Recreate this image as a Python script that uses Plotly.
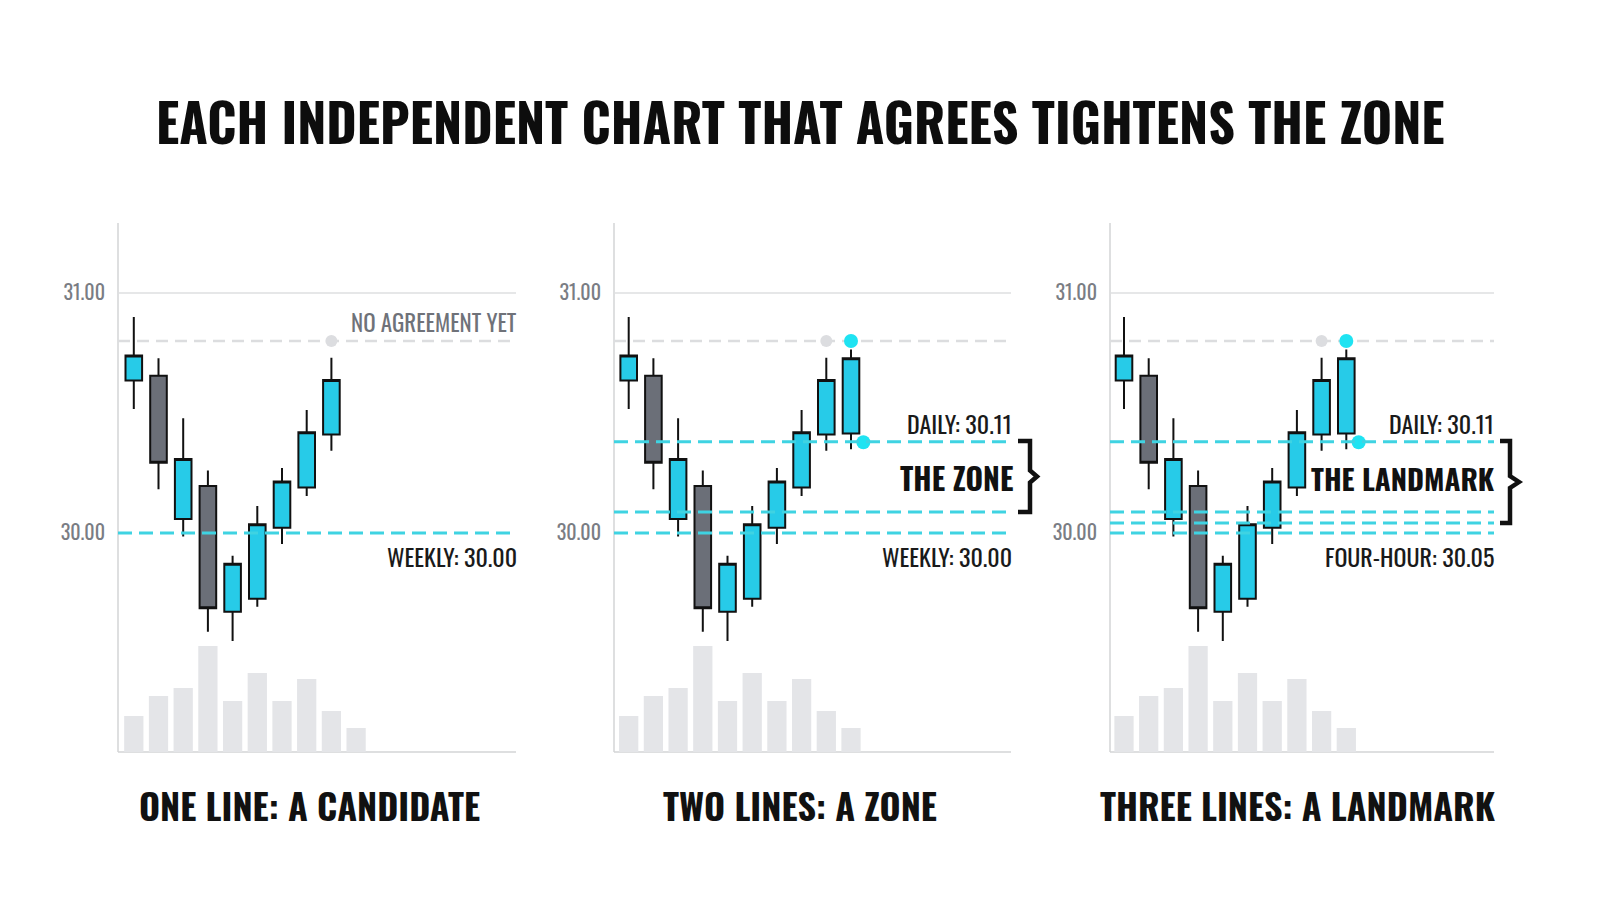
import plotly.graph_objects as go

W, H = 1600, 914

# ---------------- data ----------------
candle_idx = [0, 1, 2, 3, 4, 5, 6, 7, 8, 9]
opens  = [30.635, 30.655, 30.058, 30.196, 29.672, 29.726, 30.022, 30.190, 30.410, 30.415]
highs  = [30.900, 30.728, 30.478, 30.260, 29.905, 30.112, 30.271, 30.512, 30.730, 30.765]
lows   = [30.517, 30.182, 29.985, 29.589, 29.550, 29.693, 29.954, 30.154, 30.343, 30.349]
closes = [30.740, 30.293, 30.308, 29.686, 29.872, 30.036, 30.215, 30.420, 30.638, 30.728]
volume = [36, 56, 64, 106, 51, 79, 51, 73, 41, 24]

candles_per_panel = [9, 10, 10]
captions = ["ONE LINE: A CANDIDATE", "TWO LINES: A ZONE", "THREE LINES: A LANDMARK"]
title_text = "EACH INDEPENDENT CHART THAT AGREES TIGHTENS THE ZONE"

tick_vals = [30.0, 31.0]
tick_text = ["30.00", "31.00"]

prior_high = 30.80            # grey dashed "no agreement" line
# cyan level lines per panel (plotted heights)
levels = [
    [30.00],
    [30.38, 30.088, 30.00],
    [30.38, 30.088, 30.042, 30.00],
]
dot_grey = [(8, 30.80), (8, 30.80), (8, 30.80)]
dot_cyan = [[], [(9, 30.80), (9.5, 30.378)], [(9, 30.80), (9.5, 30.378)]]

# ---------------- styling / layout ----------------
CYAN = "#27cbe8"
CYAN_LINE = "#3fd3e2"
CYAN_DOT = "#1fe3f2"
GREY_C = "#6b6f78"
VOL = "#e4e5e8"
AX = "#d3d4d6"
FONT_N = "Oswald, 'Liberation Sans Narrow', 'DejaVu Sans Condensed', 'Roboto', sans-serif"

OFF = 8  # page body margin offset
panels_px = [(118, 516), (614, 1011), (1110, 1494)]
first_center_px = [133.8, 628.7, 1124.0]
spacing_px = 24.7
top_px, bot_px = 223, 752
y_lo = 30 - (bot_px - 533) / 240
y_hi = 30 + (533 - top_px) / 240


def px(x):
    return (x - OFF) / W


def py(y):
    return 1 - (y - OFF) / H


fig = go.Figure()
layout = dict(
    width=W, height=H, margin=dict(l=0, r=0, t=0, b=0),
    paper_bgcolor="white", plot_bgcolor="rgba(0,0,0,0)",
    showlegend=False, boxgap=0.04,
)
shapes = []
annotations = []

for i in range(3):
    n = i + 1
    xa = "x" if n == 1 else f"x{n}"
    ya = "y" if n == 1 else f"y{n}"
    yv = f"y{n+3}"
    l_px, r_px = panels_px[i]
    x_lo = (l_px - first_center_px[i]) / spacing_px
    x_hi = (r_px - first_center_px[i]) / spacing_px
    dom_x = [px(l_px), px(r_px)]
    dom_y = [py(bot_px), py(top_px)]

    layout[f"xaxis{'' if n == 1 else n}"] = dict(
        domain=dom_x, range=[x_lo, x_hi], showgrid=False, zeroline=False,
        showticklabels=False, ticks="", rangeslider=dict(visible=False),
        showline=False, anchor=ya, fixedrange=True,
    )
    layout[f"yaxis{'' if n == 1 else n}"] = dict(
        domain=dom_y, range=[y_lo, y_hi], showgrid=False, zeroline=False,
        tickvals=tick_vals, ticktext=tick_text, ticks="",
        ticklabelstandoff=12,
        tickfont=dict(family=FONT_N, size=20, color="#7a7d84"),
        showline=False, anchor=xa,
    )
    layout[f"yaxis{n+3}"] = dict(
        domain=dom_y, range=[0, bot_px - top_px], overlaying=ya, anchor=xa,
        showgrid=False, zeroline=False, showticklabels=False, showline=False,
    )

    # volume bars
    fig.add_trace(go.Bar(
        x=candle_idx, y=volume, marker=dict(color=VOL, line=dict(width=0)),
        width=0.78, xaxis=xa, yaxis=yv, hoverinfo="skip",
    ))

    k = candles_per_panel[i]
    fig.add_trace(go.Candlestick(
        x=candle_idx[:k], open=opens[:k], high=highs[:k], low=lows[:k], close=closes[:k],
        increasing=dict(fillcolor=CYAN, line=dict(color="#111111", width=2)),
        decreasing=dict(fillcolor=GREY_C, line=dict(color="#111111", width=2)),
        xaxis=xa, yaxis=ya, hoverinfo="skip",
    ))

    xd = f"{xa} domain"
    # axes lines
    shapes.append(dict(type="line", xref="paper", yref="paper", x0=px(l_px), x1=px(l_px),
                       y0=py(bot_px), y1=py(top_px), line=dict(color=AX, width=1.5), layer="below"))
    shapes.append(dict(type="line", xref="paper", yref="paper", x0=px(l_px), x1=px(r_px),
                       y0=py(bot_px), y1=py(bot_px), line=dict(color=AX, width=1.5), layer="below"))
    # gridline at 31
    shapes.append(dict(type="line", xref=xd, yref=ya, x0=0, x1=1, y0=31.0, y1=31.0,
                       line=dict(color="#dedfe1", width=1.5), layer="below"))
    # grey prior-high dashed line
    shapes.append(dict(type="line", xref=xd, yref=ya, x0=0, x1=1, y0=prior_high, y1=prior_high,
                       line=dict(color="#dcdddf", width=2.5, dash="12px,7px"), layer="below"))
    # cyan levels
    for lv in levels[i]:
        shapes.append(dict(type="line", xref=xd, yref=ya, x0=0, x1=1, y0=lv, y1=lv,
                           line=dict(color=CYAN_LINE, width=3, dash="14px,7px")))

    gx, gy = dot_grey[i]
    fig.add_trace(go.Scatter(x=[gx], y=[gy], mode="markers", xaxis=xa, yaxis=ya,
                             marker=dict(size=12, color="#dcdde0"), hoverinfo="skip"))
    if dot_cyan[i]:
        fig.add_trace(go.Scatter(x=[d[0] for d in dot_cyan[i]], y=[d[1] for d in dot_cyan[i]],
                                 mode="markers", xaxis=xa, yaxis=ya,
                                 marker=dict(size=14, color=CYAN_DOT), hoverinfo="skip"))

    # caption
    cap_x = [309, 800, 1298][i]
    annotations.append(dict(text=captions[i], x=px(cap_x), y=py(804), xref="paper", yref="paper",
                            xanchor="center", yanchor="middle", showarrow=False,
                            font=dict(family=FONT_N, size=36, color="#111111", weight="bold")))


def label(text, xr, yc, size=24, color="#1a1a1a", bold=False):
    annotations.append(dict(text=text, x=px(xr + 3), y=py(yc), xref="paper", yref="paper",
                            xanchor="right", yanchor="middle", showarrow=False,
                            font=dict(family=FONT_N, size=size, color=color,
                                      weight="bold" if bold else "normal")))


label("NO AGREEMENT YET", 516, 322, size=23, color="#6f7279")
label("WEEKLY: 30.00", 516, 556, size=24)
label("DAILY: 30.11", 1011, 423, size=24)
label("THE ZONE", 1012, 477, size=30, color="#111111", bold=True)
label("WEEKLY: 30.00", 1011, 556, size=24)
label("DAILY: 30.11", 1493, 423, size=24)
label("THE LANDMARK", 1494, 477, size=29, color="#111111", bold=True)
label("FOUR-HOUR: 30.05", 1493, 556, size=24)


def bracket(x0, xv, xt, yt, yb):
    ym = (yt + yb) / 2
    pts = [(x0, yt), (xv, yt), (xv, ym - 6), (xt, ym), (xv, ym + 6), (xv, yb), (x0, yb)]
    path = "M " + " L ".join(f"{px(a):.5f},{py(b):.5f}" for a, b in pts)
    shapes.append(dict(type="path", xref="paper", yref="paper", path=path,
                       line=dict(color="#111111", width=4.5)))


bracket(1018, 1030, 1037, 441, 512)
bracket(1500, 1510, 1519, 441, 523)

annotations.append(dict(text=title_text, x=px(800), y=py(120), xref="paper", yref="paper",
                        xanchor="center", yanchor="middle", showarrow=False,
                        font=dict(family=FONT_N, size=52, color="#0d0d0d", weight="bold")))

layout["shapes"] = shapes
layout["annotations"] = annotations
fig.update_layout(**layout)
fig.write_html("out.html")
